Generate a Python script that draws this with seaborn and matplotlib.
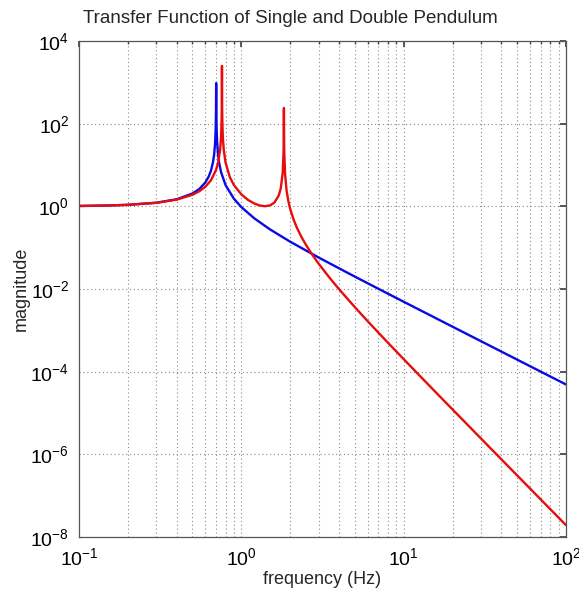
import matplotlib
matplotlib.use("Agg")
import matplotlib.pyplot as plt
import pandas as pd
import seaborn as sns
from matplotlib.ticker import LogLocator, NullFormatter, NullLocator

# ---- data ----
freq_single = [0.1, 0.15, 0.2, 0.3, 0.4, 0.5, 0.55, 0.6, 0.63, 0.65, 0.67, 0.68, 0.69,
               0.695, 0.698, 0.70, 0.702, 0.705, 0.71, 0.72, 0.73, 0.75, 0.8, 0.9, 1.0,
               1.2, 1.5, 2, 3, 5, 7, 10, 20, 30, 50, 70, 100]
mag_single = [1.021, 1.048, 1.089, 1.225, 1.485, 2.042, 2.613, 3.769, 5.263, 7.259, 11.92,
              17.75, 35.2, 70.3, 175, 960, 175, 69.7, 34.7, 17.25, 11.42, 6.76, 3.267,
              1.531, 0.961, 0.516, 0.278, 0.1396, 0.0576, 0.01999, 0.0101, 0.004924,
              0.001226, 5.447e-4, 1.960e-4, 1.0e-4, 4.90e-5]

freq_double = [0.1, 0.15, 0.2, 0.3, 0.4, 0.5, 0.55, 0.6, 0.65, 0.7, 0.72, 0.74, 0.75, 0.755,
               0.758, 0.76, 0.762, 0.765, 0.77, 0.78, 0.8, 0.85, 0.9, 1.0, 1.1, 1.2, 1.3,
               1.4, 1.5, 1.6, 1.7, 1.75, 1.8, 1.82, 1.825, 1.83, 1.835, 1.84, 1.86, 1.9,
               1.95, 2.0, 2.1, 2.2, 2.35, 2.5, 2.73, 3, 3.5, 4, 5, 6, 7, 8.5, 10, 15, 20,
               30, 50, 70, 100]
mag_double = [1.021, 1.048, 1.087, 1.217, 1.453, 1.905, 2.308, 2.974, 4.262, 7.72, 11.5,
              23.0, 46.0, 91.9, 230, 2500, 230, 91.8, 45.9, 22.9, 11.4, 5.08, 3.278, 1.950,
              1.430, 1.175, 1.048, 1.007, 1.053, 1.237, 1.823, 2.718, 6.67, 19.4, 38.4, 240,
              37.9, 18.8, 6.06, 2.443, 1.322, 0.868, 0.4757, 0.304, 0.180, 0.1175, 0.0686,
              0.0406, 0.01862, 0.00991, 0.003658, 1.672e-3, 8.75e-4, 3.917e-4, 2.013e-4,
              3.889e-5, 1.221e-5, 2.40e-6, 3.10e-7, 8.06e-8, 1.935e-8]

y_ticks = [1e-8, 1e-6, 1e-4, 1e-2, 1e0, 1e2, 1e4]

df_single = pd.DataFrame({"frequency": freq_single, "magnitude": mag_single})
df_double = pd.DataFrame({"frequency": freq_double, "magnitude": mag_double})

sns.set_theme(style="white")
plt.rcParams["font.family"] = ["Liberation Sans", "DejaVu Sans"]
plt.rcParams["mathtext.default"] = "regular"

fig = plt.figure(figsize=(5.79, 5.92), dpi=100)
ax = fig.add_axes([0.1364, 0.0929, 0.8411, 0.8378])

sns.lineplot(data=df_single, x="frequency", y="magnitude", color="#0a0ae6",
             lw=1.7, ax=ax, estimator=None, sort=False)
sns.lineplot(data=df_double, x="frequency", y="magnitude", color="#e80c0c",
             lw=1.7, ax=ax, estimator=None, sort=False)

ax.set_xscale("log")
ax.set_yscale("log")
ax.set_xlim(0.1, 100)
ax.set_ylim(1e-8, 1e4)
ax.set_yticks(y_ticks)
ax.yaxis.set_minor_locator(NullLocator())
ax.xaxis.set_major_locator(LogLocator(base=10))
ax.xaxis.set_minor_locator(LogLocator(base=10, subs=range(2, 10)))
ax.xaxis.set_minor_formatter(NullFormatter())

grid_kw = dict(ls=(0, (1, 2.5)), color="#8a8a8a", lw=0.8)
ax.grid(True, which="major", axis="both", **grid_kw)
ax.grid(True, which="minor", axis="x", **grid_kw)

ax.tick_params(which="both", direction="in", top=True, right=True,
               labelsize=14, colors="#444444", labelcolor="black", pad=7)
ax.tick_params(which="major", length=4)
ax.tick_params(which="minor", length=2)
for s in ax.spines.values():
    s.set_color("#555555")
    s.set_linewidth(0.9)

ax.set_title("Transfer Function of Single and Double Pendulum", fontsize=13.5, pad=13,
             x=0.435)
ax.set_xlabel("frequency (Hz)", fontsize=13, labelpad=2)
ax.set_ylabel("magnitude", fontsize=13, labelpad=0)

fig.savefig("out.png", dpi=100)
